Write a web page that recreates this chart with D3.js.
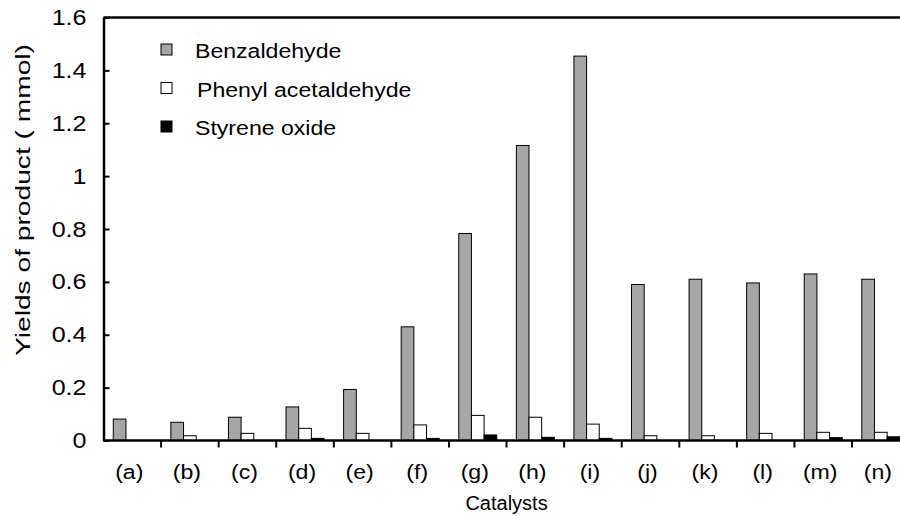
<!DOCTYPE html>
<html>
<head>
<meta charset="utf-8">
<script src="https://cdn.jsdelivr.net/npm/d3@7"></script>
<style>
  body { margin: 0; background: #fff; }
  svg { display: block; font-family: "Liberation Sans", Arial, sans-serif; }
</style>
</head>
<body>
<div id="vis"></div>
<script>
// Chart data
const categories = ['(a)', '(b)', '(c)', '(d)', '(e)', '(f)', '(g)', '(h)', '(i)', '(j)', '(k)', '(l)', '(m)', '(n)'];
const benzaldehyde = [0.081, 0.069, 0.088, 0.127, 0.193, 0.430, 0.783, 1.116, 1.454, 0.590, 0.610, 0.596, 0.630, 0.610];
const phenylAcetaldehyde = [0, 0.018, 0.027, 0.046, 0.027, 0.059, 0.095, 0.088, 0.062, 0.018, 0.018, 0.027, 0.031, 0.031];
const styreneOxide = [0, 0, 0, 0.008, 0, 0.008, 0.021, 0.012, 0.008, 0, 0, 0, 0.011, 0.014];
const seriesNames = ['Benzaldehyde', 'Phenyl acetaldehyde', 'Styrene oxide'];
const seriesColours = ['#a6a6a6', '#ffffff', '#000000'];
const yTicks = [0, 0.2, 0.4, 0.6, 0.8, 1, 1.2, 1.4, 1.6];

const width = 900;
const height = 516;

const margin = {
    top: 17.5,
    left: 103.5,
    right: -9.6,   // plot runs past the right edge, as in the reference
    bottom: 75.5
};

// the reference font is a little wider than Arial, so stretch text sideways
const stretch = 1.1;

const series = [benzaldehyde, phenylAcetaldehyde, styreneOxide];

let svg = d3.select('#vis')
    .append('svg')
    .attr('width', width)
    .attr('height', height);

// scales
let x0 = d3.scaleBand()
    .domain(categories)
    .range([margin.left, width - margin.right])
    .paddingInner(0.34)
    .paddingOuter(0.17);

let x1 = d3.scaleBand()
    .domain(d3.range(series.length))
    .range([0, x0.bandwidth()]);

let yScale = d3.scaleLinear()
    .domain([0, 1.6])
    .range([height - margin.bottom, margin.top]);

// bars
let groups = svg.selectAll('g.cat')
    .data(categories)
    .join('g')
    .attr('class', 'cat')
    .attr('transform', d => `translate(${x0(d)},0)`);

groups.selectAll('rect')
    .data((d, i) => series.map((s, k) => ({ k: k, v: s[i] })).filter(e => e.v > 0))
    .join('rect')
    .attr('x', d => x1(d.k))
    .attr('width', x1.bandwidth())
    .attr('y', d => yScale(d.v))
    .attr('height', d => yScale(0) - yScale(d.v))
    .attr('fill', d => seriesColours[d.k])
    .attr('stroke', '#000')
    .attr('stroke-width', 1);

// top frame line
svg.append('line')
    .attr('x1', margin.left)
    .attr('x2', width)
    .attr('y1', yScale(1.6))
    .attr('y2', yScale(1.6))
    .attr('stroke', '#000')
    .attr('stroke-width', 2.5);

// y axis, ticks pointing inwards
let yaxis = d3.axisLeft(yScale)
    .tickValues(yTicks)
    .tickFormat(d => String(d))
    .tickSizeInner(-6)
    .tickSizeOuter(0)
    .tickPadding(17);

let gy = svg.append('g')
    .attr('class', 'y axis')
    .attr('transform', `translate(${margin.left},0)`)
    .call(yaxis);

gy.select('.domain').attr('stroke-width', 2.5);
gy.selectAll('.tick line').attr('stroke-width', 2);
gy.selectAll('.tick text')
    .attr('x', 0)
    .attr('transform', 'translate(-17,0) scale(1.14,1)')
    .attr('font-size', 22)
    .attr('fill', '#000');

// x axis: line, boundary ticks and category labels
let gx = svg.append('g')
    .attr('class', 'x axis');

gx.append('line')
    .attr('x1', margin.left)
    .attr('x2', width)
    .attr('y1', yScale(0))
    .attr('y2', yScale(0))
    .attr('stroke', '#000')
    .attr('stroke-width', 2.5);

const step = x0.step();
const gap = step * x0.paddingInner();

gx.selectAll('line.tick')
    .data(categories.slice(0, -1))
    .join('line')
    .attr('class', 'tick')
    .attr('x1', d => x0(d) - gap / 2 + step)
    .attr('x2', d => x0(d) - gap / 2 + step)
    .attr('y1', yScale(0))
    .attr('y2', yScale(0) + 7)
    .attr('stroke', '#000')
    .attr('stroke-width', 2);

gx.selectAll('text.label')
    .data(categories)
    .join('text')
    .attr('class', 'label')
    .attr('transform', d => `translate(${x0(d) + x0.bandwidth() / 2 - 3},479) scale(${stretch},1)`)
    .attr('text-anchor', 'middle')
    .attr('font-size', 21)
    .text(d => d);

// axis titles
svg.append('text')
    .attr('x', (margin.left + width - margin.right) / 2)
    .attr('y', 510)
    .attr('text-anchor', 'middle')
    .attr('font-size', 20)
    .text('Catalysts');

svg.append('text')
    .attr('transform', 'translate(30,200) rotate(-90)')
    .attr('text-anchor', 'middle')
    .attr('font-size', 21)
    .attr('textLength', 312)
    .attr('lengthAdjust', 'spacingAndGlyphs')
    .text('Yields of product ( mmol)');

// legend
let legend = svg.append('g')
    .attr('class', 'legend')
    .attr('transform', 'translate(161,44)');

let items = legend.selectAll('g')
    .data(seriesNames)
    .join('g')
    .attr('transform', (d, i) => `translate(0,${i * 38.5})`);

items.append('rect')
    .attr('width', 11)
    .attr('height', 11)
    .attr('fill', (d, i) => seriesColours[i])
    .attr('stroke', '#000')
    .attr('stroke-width', 1);

items.append('text')
    .attr('transform', (d, i) => `translate(${i == 1 ? 36 : 34},7) scale(${stretch},1)`)
    .attr('dy', '0.35em')
    .attr('font-size', 21)
    .text(d => d);
</script>
</body>
</html>
